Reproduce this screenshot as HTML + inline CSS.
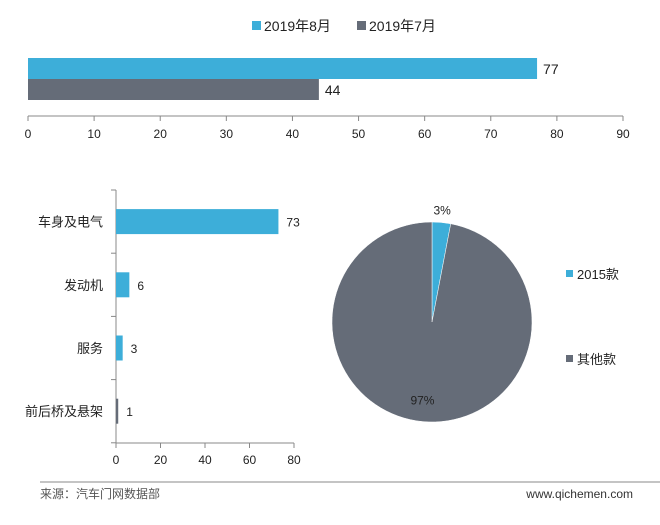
<!DOCTYPE html>
<html><head><meta charset="utf-8"><style>
body{margin:0;background:#fff;}
svg text{font-family:"Liberation Sans","Noto Sans CJK SC",sans-serif;fill:#222;}
</style></head><body>
<svg width="660" height="520" viewBox="0 0 660 520">
<g id="top"></g>
<g id="left"></g>
<g id="pie"></g>
<g>
<rect x="252" y="21" width="9" height="9" fill="#3daed9"/>
<text x="264" y="31" font-size="14">2019年8月</text>
<rect x="357" y="21" width="9" height="9" fill="#656c78"/>
<text x="369" y="31" font-size="14">2019年7月</text>
</g>
<g>
<rect x="566" y="270" width="7" height="7" fill="#3daed9"/>
<text x="577" y="279" font-size="13">2015款</text>
<rect x="566" y="355" width="7" height="7" fill="#656c78"/>
<text x="577" y="364" font-size="13">其他款</text>
</g>
<line x1="40" y1="482" x2="660" y2="482" stroke="#888"/>
<text x="40" y="498" font-size="12" fill="#555" style="fill:#555">来源：汽车门网数据部</text>
<text x="633" y="498" font-size="12" text-anchor="end" style="fill:#333">www.qichemen.com</text>
</svg>
<script>
const topSeries=["2019年8月","2019年7月"];
const topValues=[77,44];
const topTicks=[0,10,20,30,40,50,60,70,80,90];
const catNames=["车身及电气","发动机","服务","前后桥及悬架"];
const catValues=[73,6,3,1];
const catTicks=[0,20,40,60,80];
const pieLabels=["2015款","其他款"];
const pieValues=[3,97];
const NS="http://www.w3.org/2000/svg";
function mk(p,t,a){const e=document.createElementNS(NS,t);for(const k in a)e.setAttribute(k,a[k]);p.appendChild(e);return e;}
const BLUE="#3daed9",GRAY="#656c78";
// top
const tg=document.getElementById('top');
const tx=v=>28+v*(595/90);
topValues.forEach((v,i)=>{
 const y=58+i*21;
 const r=mk(tg,'rect',{x:28,y:y,width:tx(v)-28,height:21,fill:i?GRAY:BLUE});
 
 
 const t=mk(tg,'text',{x:tx(v)+6,y:y+16,'font-size':14});t.textContent=v;
 
 
});
const ta=mk(tg,'line',{x1:28,y1:116,x2:623,y2:116,stroke:'#888'});


topTicks.forEach(v=>{
 mk(tg,'line',{x1:tx(v),y1:116,x2:tx(v),y2:121,stroke:'#888'});
 const t=mk(tg,'text',{x:tx(v),y:138,'font-size':12,'text-anchor':'middle'});t.textContent=v;
 
 
});
// left
const lg=document.getElementById('left');
const lx=v=>116+v*(178/80);
const band=63.2,top0=190;
const la=mk(lg,'line',{x1:116,y1:top0,x2:116,y2:443,stroke:'#888'});


mk(lg,'line',{x1:116,y1:443,x2:294,y2:443,stroke:'#888'});
for(let i=0;i<=catNames.length;i++)mk(lg,'line',{x1:111,y1:top0+i*band,x2:116,y2:top0+i*band,stroke:'#888'});
catNames.forEach((n,i)=>{
 const cy=top0+band*(i+0.5);
 const r=mk(lg,'rect',{x:116,y:cy-12.5,width:lx(catValues[i])-116,height:25,fill:i==3?GRAY:BLUE});
 
 
 const t=mk(lg,'text',{x:lx(catValues[i])+8,y:cy+5,'font-size':12});t.textContent=catValues[i];
 
 
 const c=mk(lg,'text',{x:103,y:cy+5,'font-size':13,'text-anchor':'end'});c.textContent=n;
 
 
});
catTicks.forEach(v=>{
 mk(lg,'line',{x1:lx(v),y1:443,x2:lx(v),y2:448,stroke:'#888'});
 const t=mk(lg,'text',{x:lx(v),y:464,'font-size':12,'text-anchor':'middle'});t.textContent=v;
 
 
});
// pie
const pg=document.getElementById('pie');
const cx=432,cy=322,R=100;
const tot=pieValues.reduce((a,b)=>a+b,0);
let a0=-Math.PI/2;
pieValues.forEach((v,i)=>{
 const a1=a0+v/tot*2*Math.PI;
 const large=(a1-a0)>Math.PI?1:0;
 const d=`M${cx},${cy} L${cx+R*Math.cos(a0)},${cy+R*Math.sin(a0)} A${R},${R} 0 ${large} 1 ${cx+R*Math.cos(a1)},${cy+R*Math.sin(a1)} Z`;
 const p=mk(pg,'path',{d:d,fill:i?GRAY:BLUE,stroke:'#fff','stroke-width':0.5});
 
 
 const am=(a0+a1)/2;
 let lx2,ly2;
 if(i==0){lx2=cx+(R+8)*Math.cos(am);ly2=cy+(R+8)*Math.sin(am);}
 else{lx2=cx+R*0.8*Math.cos(am)-2;ly2=cy+R*0.8*Math.sin(am)+3;}
 const t=mk(pg,'text',{x:lx2,y:ly2,'font-size':12,'text-anchor':'middle'});t.textContent=Math.round(v/tot*100)+'%';
 
 
 a0=a1;
});
</script>
</body></html>
